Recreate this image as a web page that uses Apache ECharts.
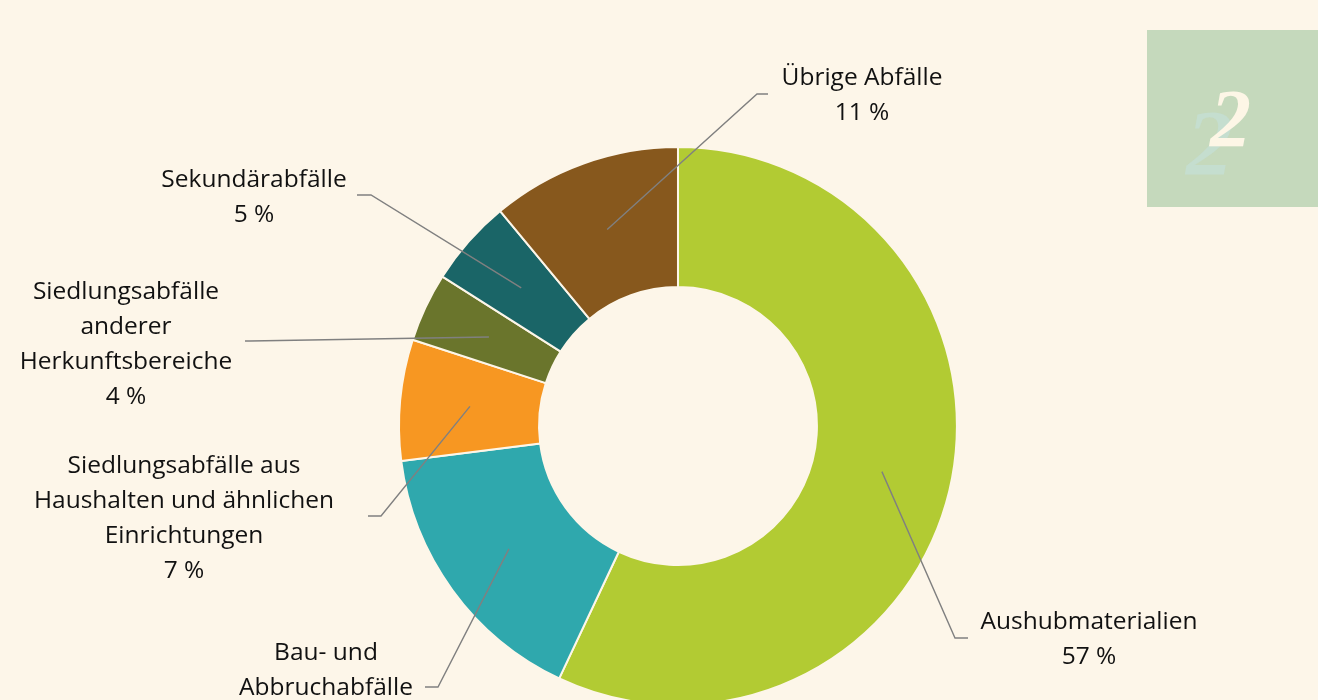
<!DOCTYPE html>
<html><head><meta charset="utf-8">
<script src="https://cdn.jsdelivr.net/npm/echarts@6/dist/echarts.min.js"></script>
<style>html,body{margin:0;padding:0;background:#fdf6e9}#chart{width:1318px;height:700px}</style>
</head><body><div id="chart"></div>
<script>
// ---- data ----
const categories = [
  'Aushubmaterialien',
  'Bau- und\nAbbruchabfälle',
  'Siedlungsabfälle aus\nHaushalten und ähnlichen\nEinrichtungen',
  'Siedlungsabfälle\nanderer\nHerkunftsbereiche',
  'Sekundärabfälle',
  'Übrige Abfälle'
];
const shares = [57, 16, 7, 4, 5, 11];

// ---- styles / layout ----
const colors = ['#b2cb33', '#2fa8ad', '#f79722', '#6a752c', '#1a6567', '#87581d'];
const bg = '#fdf6e9';
const centerFrac = [0.5144, 0.6086];
const radiusFrac = [0.397, 0.797];
// label layout in 1318x700 design space: [textCenterX, textTopY, elbowX, elbowY, endX, endY]
const labelLayoutPos = [
  [1089, 605, 955, 638, 968, 638],
  [326, 636, 438, 687, 425, 687],
  [184, 449, 381, 516, 368, 516],
  [126, 275, 250, 341, 245, 341],
  [254, 163, 371, 195, 357, 195],
  [862, 61, 757, 94, 768, 94]
];

const chart = echarts.init(document.getElementById('chart'), null, {renderer: 'canvas'});

const common = {
  type: 'pie',
  center: [(centerFrac[0] * 100) + '%', (centerFrac[1] * 100) + '%'],
  radius: [(radiusFrac[0] * 100) + '%', (radiusFrac[1] * 100) + '%'],
  startAngle: 90,
  clockwise: true,
  avoidLabelOverlap: false,
  emphasis: {disabled: true},
  silent: true
};

const option = {
  backgroundColor: bg,
  animation: false,
  graphic: [
    {type: 'rect', left: 1147, top: 30, shape: {width: 171, height: 177}, style: {fill: '#c5d9bc'}, silent: true},
    {type: 'text', left: 1186, top: 103, style: {text: '2', fill: 'rgba(196,222,208,0.9)', font: 'italic bold 94px "Liberation Serif"'}, silent: true},
    {type: 'text', left: 1210, top: 84, style: {text: '2', fill: '#fdf6e6', font: 'italic bold 82px "Liberation Serif"'}, silent: true}
  ],
  series: [
    Object.assign({}, common, {
      z: 2,
      itemStyle: {borderColor: bg, borderWidth: 2},
      label: {show: false},
      labelLine: {show: false},
      data: categories.map((c, i) => ({name: c, value: shares[i], itemStyle: {color: colors[i]}}))
    }),
    Object.assign({}, common, {
      z: 3,
      itemStyle: {color: 'rgba(0,0,0,0)', borderWidth: 0},
      label: {
        show: true,
        position: 'outside',
        formatter: p => p.name + '\n' + p.value + ' %',
        color: '#111111',
        fontFamily: 'Open Sans',
        fontSize: 24.5,
        lineHeight: 35,
        align: 'center'
      },
      labelLine: {show: true, lineStyle: {color: '#808080', width: 1.4}},
      labelLayout: function (p) {
        const i = p.dataIndex;
        const L = labelLayoutPos[i];
        const W = chart.getWidth(), H = chart.getHeight();
        const sx = W / 1318, sy = H / 700;
        const cx = W * centerFrac[0], cy = H * centerFrac[1];
        const half = Math.min(W, H) / 2;
        const R = half * radiusFrac[1], r0 = half * radiusFrac[0];
        const k = ((R + r0) / 2) / R;
        const res = {x: L[0] * sx, y: L[1] * sy, align: 'center', verticalAlign: 'top'};
        if (p.labelLinePoints && p.labelLinePoints[0]) {
          const p0 = p.labelLinePoints[0];
          res.labelLinePoints = [
            [cx + (p0[0] - cx) * k, cy + (p0[1] - cy) * k],
            [L[2] * sx, L[3] * sy],
            [L[4] * sx, L[5] * sy]
          ];
        }
        return res;
      },
      data: categories.map((c, i) => ({name: c, value: shares[i]}))
    })
  ]
};
chart.setOption(option);
</script>
</body></html>
